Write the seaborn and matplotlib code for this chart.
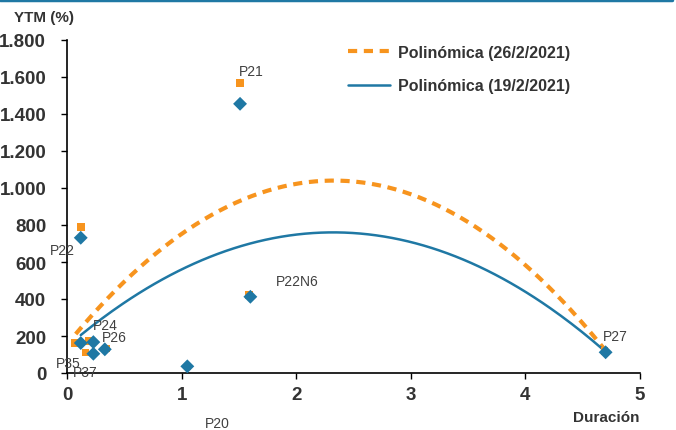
import numpy as np
import pandas as pd
import matplotlib
matplotlib.use("Agg")
import matplotlib.pyplot as plt
import seaborn as sns
from matplotlib.ticker import FuncFormatter
from matplotlib.lines import Line2D

# Data
bonds = ["P21", "P22", "P22N6", "P24", "P26", "P35", "P37", "P20", "P27"]
dur_19 = [1.51, 0.12, 1.60, 0.23, 0.33, 0.12, 0.23, 1.05, 4.70]
ytm_19 = [1455, 731, 412, 167, 128, 162, 104, 36, 112]
dur_26 = [1.51, 0.12, 1.59, 0.19, 0.34, 0.07, 0.16, 1.05, 4.69]
ytm_26 = [1568, 789, 423, 172, 132, 162, 110, 36, 120]

# polynomial trend lines (a*x^2 + b*x + c), coefficients
trend_26 = [-163.5, 761.3, 153.9]
trend_26_range = [0.076, 4.70]
trend_19 = [-114.3, 531.2, 142.9]
trend_19_range = [0.12, 4.70]

label_26 = "Polinómica (26/2/2021)"
label_19 = "Polinómica (19/2/2021)"
x_ticks = [0, 1, 2, 3, 4, 5]
y_ticks = [0, 200, 400, 600, 800, 1000, 1200, 1400, 1600, 1800]

ORANGE = "#F7941E"
BLUE = "#1F78A4"
TXT = "#333333"

df19 = pd.DataFrame({"bond": bonds, "dur": dur_19, "ytm": ytm_19})
df26 = pd.DataFrame({"bond": bonds, "dur": dur_26, "ytm": ytm_26})

def trend_frame(coef, rng):
    xs = np.linspace(rng[0], rng[1], 200)
    return pd.DataFrame({"dur": xs, "ytm": np.polyval(coef, xs)})

sns.set_theme(style="white")
plt.rcParams["font.family"] = ["Liberation Sans", "DejaVu Sans"]

fig = plt.figure(figsize=(6.76, 4.31), dpi=100)
ax = fig.add_axes([67 / 676, 1 - 374 / 431, (640 - 67) / 676, (374 - 41) / 431])

sns.lineplot(data=trend_frame(trend_26, trend_26_range), x="dur", y="ytm", ax=ax,
             color=ORANGE, lw=3, ls=(0, (2.2, 1.6)), legend=False, zorder=2)
sns.lineplot(data=trend_frame(trend_19, trend_19_range), x="dur", y="ytm", ax=ax,
             color=BLUE, lw=1.8, legend=False, zorder=2)

# points
sns.scatterplot(data=df26, x="dur", y="ytm", marker="s", s=30, color=ORANGE,
                edgecolor="none", ax=ax, zorder=3, legend=False)
sns.scatterplot(data=df19, x="dur", y="ytm", marker="D", s=50, color=BLUE,
                edgecolor="none", ax=ax, zorder=4, legend=False)

# point labels (positions in data units)
label_pos = {
    "P21": (1.50, 1635), "P22": (-0.15, 665), "P22N6": (1.82, 500), "P24": (0.23, 262),
    "P26": (0.30, 192), "P35": (-0.10, 55), "P37": (0.05, 5), "P20": (1.20, -270),
    "P27": (4.68, 200),
}
for b, (lx, ly) in label_pos.items():
    ax.text(lx, ly, b, fontsize=10, color="#404040", ha="left", va="center", clip_on=False)

ax.set_xlim(0, 5)
ax.set_ylim(0, 1800)
ax.set_xticks(x_ticks)
ax.set_yticks(y_ticks)
ax.yaxis.set_major_formatter(FuncFormatter(lambda v, p: f"{int(v):,}".replace(",", ".")))
ax.tick_params(axis="both", labelsize=13.5, labelcolor=TXT, length=4, width=1,
               color="black", direction="out", left=True, bottom=True)
for lbl in ax.get_xticklabels() + ax.get_yticklabels():
    lbl.set_fontweight("bold")
ax.tick_params(axis="x", pad=5)
ax.tick_params(axis="y", pad=11)
for s in ["top", "right"]:
    ax.spines[s].set_visible(False)
for s in ["left", "bottom"]:
    ax.spines[s].set_color("black")
    ax.spines[s].set_linewidth(1.2)
ax.set_xlabel("")
ax.set_ylabel("")
ax.grid(False)

fig.text(14 / 676, 1 - 18 / 431, "YTM (%)", fontsize=11, fontweight="bold", color=TXT,
         ha="left", va="center")
fig.text(640 / 676, 1 - 418 / 431, "Duración", fontsize=11, fontweight="bold", color=TXT,
         ha="right", va="center")

handles = [Line2D([], [], color=ORANGE, lw=3, ls=(0, (2.2, 1.6))),
           Line2D([], [], color=BLUE, lw=1.8)]
ax.legend(handles, [label_26, label_19], loc="upper left",
          bbox_to_anchor=(348 / 676, 1 - 46 / 431), bbox_transform=fig.transFigure,
          borderaxespad=0, borderpad=0, frameon=False,
          prop=dict(size=11.5, weight="bold"), handlelength=2.6,
          handletextpad=0.55, labelspacing=1.15, labelcolor=TXT)

# top rule
fig.add_artist(Line2D([0, 672 / 676], [1 - 1 / 431, 1 - 1 / 431], color=BLUE, lw=2.5))

fig.savefig("out.png", dpi=100)
